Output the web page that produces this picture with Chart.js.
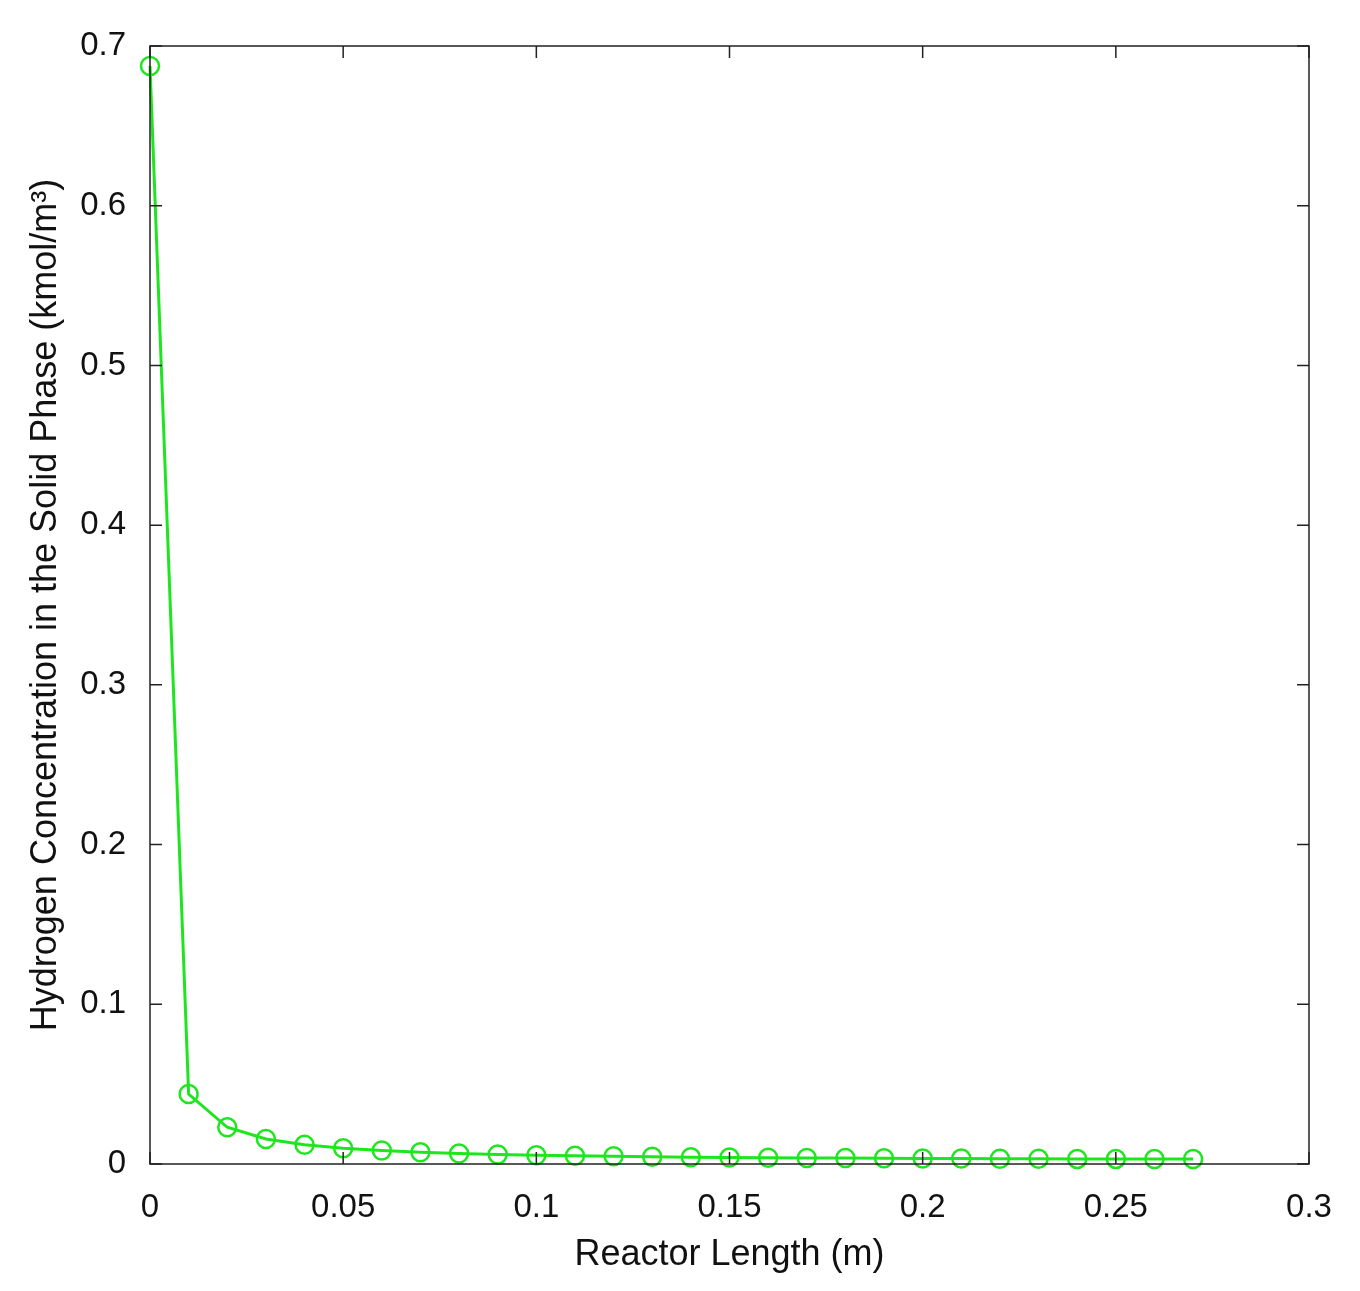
<!DOCTYPE html>
<html>
<head>
<meta charset="utf-8">
<script src="https://cdn.jsdelivr.net/npm/chart.js@4"></script>
<style>
  html, body { margin: 0; padding: 0; background: #fff; }
  #wrap { width: 1360px; height: 1291px; }
</style>
</head>
<body>
<div id="wrap"><canvas id="c"></canvas></div>
<script>
// reactor length (m) and solid-phase hydrogen concentration (kmol/m3)
const lengths = [0, 0.01, 0.02, 0.03, 0.04, 0.05, 0.06, 0.07, 0.08, 0.09, 0.10, 0.11, 0.12, 0.13,
                 0.14, 0.15, 0.16, 0.17, 0.18, 0.19, 0.20, 0.21, 0.22, 0.23, 0.24, 0.25, 0.26, 0.27];
const concentration = [0.6875, 0.0438, 0.0230, 0.0157, 0.0120, 0.0098, 0.0084, 0.0074, 0.0066, 0.0060,
                       0.0055, 0.0051, 0.0048, 0.0045, 0.0043, 0.0041, 0.0039, 0.0038, 0.0037, 0.0036,
                       0.0035, 0.0034, 0.0033, 0.0033, 0.0032, 0.0032, 0.0031, 0.0031];

const green = '#1ee61e';
const font = "'Liberation Sans', Arial, sans-serif";

// inward ticks on all four sides, like the original plot frame
const frameTicks = {
    id: 'frameTicks',
    afterDraw(chart) {
        const { ctx, chartArea: a, scales: { x, y } } = chart;
        ctx.save();
        ctx.strokeStyle = '#222';
        ctx.lineWidth = 1.5;
        ctx.strokeRect(a.left, a.top, a.right - a.left, a.bottom - a.top);
        const len = 12;
        ctx.beginPath();
        x.ticks.forEach(t => {
            const px = x.getPixelForValue(t.value);
            ctx.moveTo(px, a.bottom); ctx.lineTo(px, a.bottom - len);
            ctx.moveTo(px, a.top); ctx.lineTo(px, a.top + len);
        });
        y.ticks.forEach(t => {
            const py = y.getPixelForValue(t.value);
            ctx.moveTo(a.left, py); ctx.lineTo(a.left + len, py);
            ctx.moveTo(a.right, py); ctx.lineTo(a.right - len, py);
        });
        ctx.stroke();
        ctx.restore();
    }
};

new Chart(document.getElementById('c'), {
    type: 'line',
    data: {
        datasets: [{
            data: lengths.map((v, i) => ({ x: v, y: concentration[i] })),
            borderColor: green,
            backgroundColor: 'rgba(0,0,0,0)',
            borderWidth: 3,
            pointRadius: 9,
            pointBorderWidth: 2.5,
            pointBorderColor: green,
            pointBackgroundColor: 'rgba(0,0,0,0)',
            tension: 0,
            clip: false
        }]
    },
    options: {
        responsive: true,
        maintainAspectRatio: false,
        animation: false,
        layout: { padding: { top: 46, right: 51, left: 0, bottom: 0 } },
        plugins: { legend: { display: false }, tooltip: { enabled: false } },
        scales: {
            x: {
                type: 'linear', min: 0, max: 0.3,
                ticks: { stepSize: 0.05, color: '#111', font: { family: font, size: 33 }, padding: 16,
                         maxRotation: 0, callback: v => String(+v.toFixed(2)) },
                grid: { display: false },
                border: { display: false },
                title: { display: true, text: 'Reactor Length (m)', color: '#111',
                         font: { family: font, size: 36 }, padding: { top: 0, bottom: 14 } },
                afterFit(s) { s.height = 127; }
            },
            y: {
                min: 0, max: 0.7,
                ticks: { stepSize: 0.1, color: '#111', font: { family: font, size: 33 }, padding: 16,
                         callback: v => String(+v.toFixed(1)) },
                grid: { display: false },
                border: { display: false },
                title: { display: true, text: 'Hydrogen Concentration in the Solid Phase (kmol/m³)', color: '#111',
                         font: { family: font, size: 36 }, padding: { top: 24, bottom: 0 } },
                afterFit(s) { s.width = 150; }
            }
        }
    },
    plugins: [frameTicks]
});
</script>
</body>
</html>
